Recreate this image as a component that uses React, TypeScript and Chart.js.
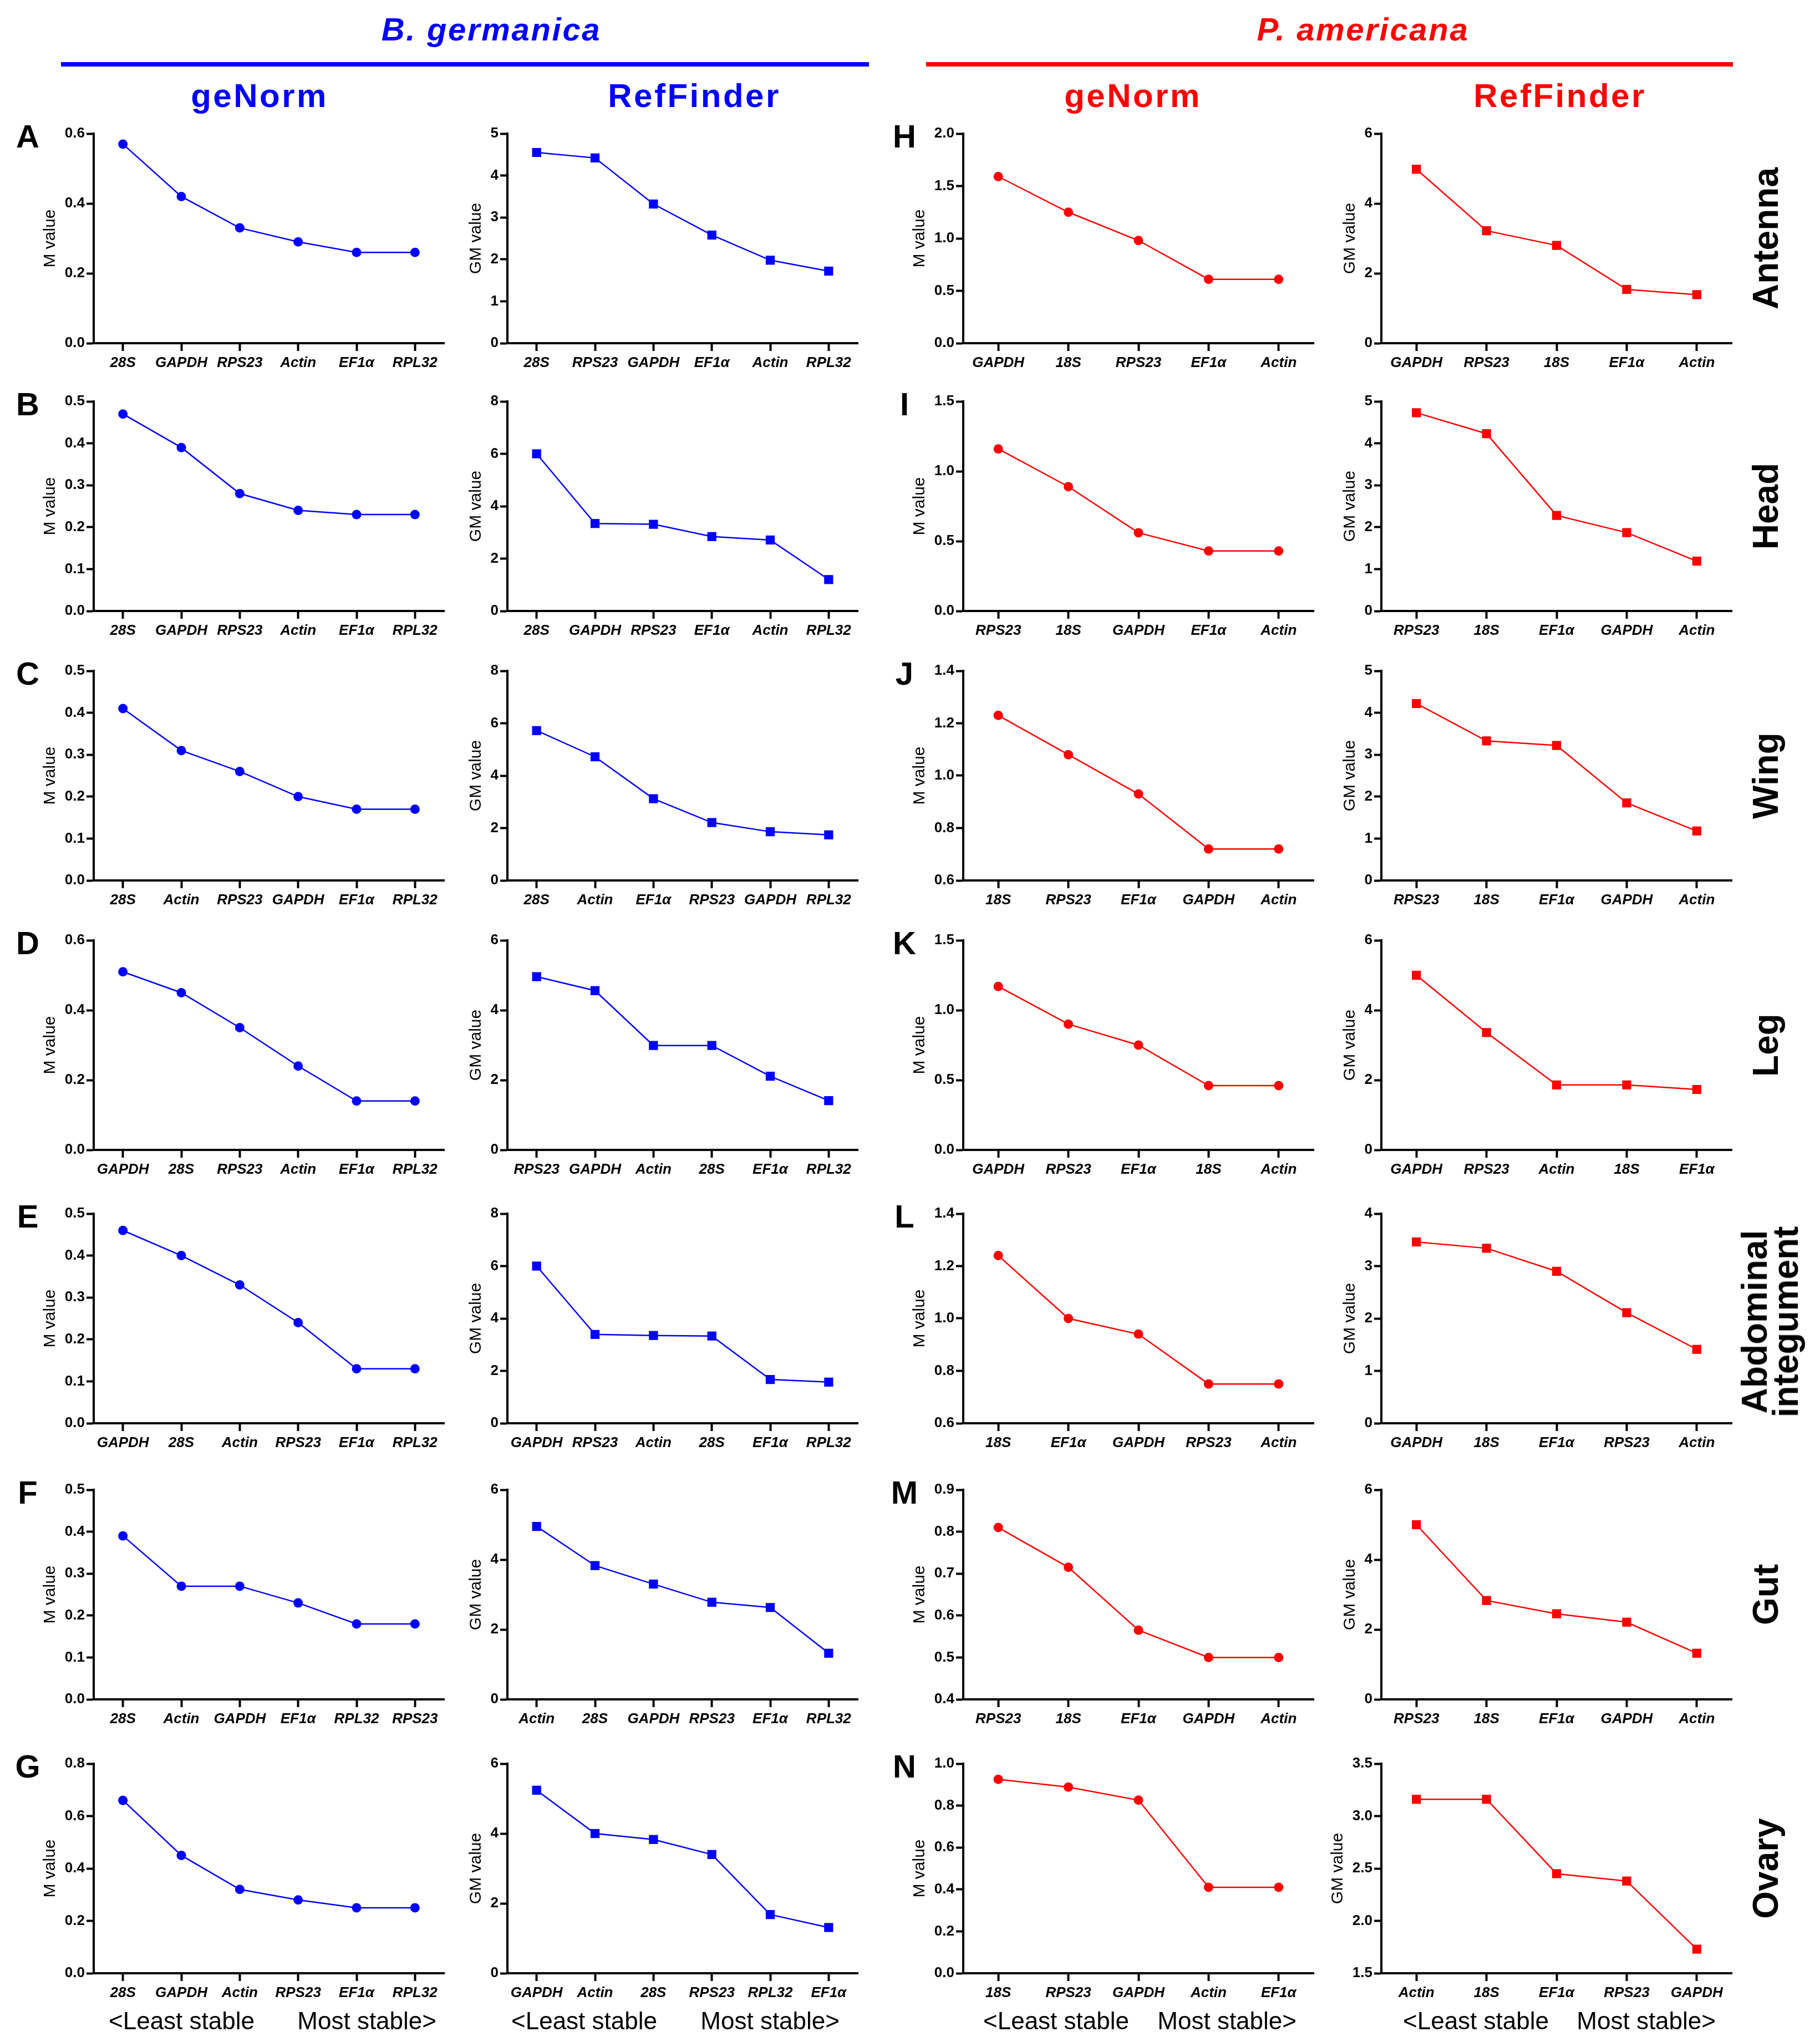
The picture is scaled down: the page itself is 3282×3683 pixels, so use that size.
import { useEffect, useRef } from 'react';
import { Chart, registerables } from 'chart.js';

Chart.register(...registerables);

const BLUE = '#0000ff';
const RED = '#ff0000';

// gene order (least -> most stable) and stability values, per tissue / species / method
// axis arrays are [min, max, step]
const antennaBgGenormGenes = ['28S', 'GAPDH', 'RPS23', 'Actin', 'EF1α', 'RPL32'];
const antennaBgGenormValues = [0.57, 0.42, 0.33, 0.29, 0.26, 0.26];
const antennaBgGenormAxis = [0, 0.6, 0.2];
const antennaBgRefGenes = ['28S', 'RPS23', 'GAPDH', 'EF1α', 'Actin', 'RPL32'];
const antennaBgRefValues = [4.55, 4.42, 3.32, 2.58, 1.98, 1.72];
const antennaBgRefAxis = [0, 5, 1];
const antennaPaGenormGenes = ['GAPDH', '18S', 'RPS23', 'EF1α', 'Actin'];
const antennaPaGenormValues = [1.59, 1.25, 0.98, 0.61, 0.61];
const antennaPaGenormAxis = [0, 2, 0.5];
const antennaPaRefGenes = ['GAPDH', 'RPS23', '18S', 'EF1α', 'Actin'];
const antennaPaRefValues = [4.98, 3.22, 2.8, 1.54, 1.39];
const antennaPaRefAxis = [0, 6, 2];

const headBgGenormGenes = ['28S', 'GAPDH', 'RPS23', 'Actin', 'EF1α', 'RPL32'];
const headBgGenormValues = [0.47, 0.39, 0.28, 0.24, 0.23, 0.23];
const headBgGenormAxis = [0, 0.5, 0.1];
const headBgRefGenes = ['28S', 'GAPDH', 'RPS23', 'EF1α', 'Actin', 'RPL32'];
const headBgRefValues = [6.0, 3.34, 3.31, 2.84, 2.71, 1.2];
const headBgRefAxis = [0, 8, 2];
const headPaGenormGenes = ['RPS23', '18S', 'GAPDH', 'EF1α', 'Actin'];
const headPaGenormValues = [1.16, 0.89, 0.56, 0.43, 0.43];
const headPaGenormAxis = [0, 1.5, 0.5];
const headPaRefGenes = ['RPS23', '18S', 'EF1α', 'GAPDH', 'Actin'];
const headPaRefValues = [4.73, 4.23, 2.28, 1.87, 1.19];
const headPaRefAxis = [0, 5, 1];

const wingBgGenormGenes = ['28S', 'Actin', 'RPS23', 'GAPDH', 'EF1α', 'RPL32'];
const wingBgGenormValues = [0.41, 0.31, 0.26, 0.2, 0.17, 0.17];
const wingBgGenormAxis = [0, 0.5, 0.1];
const wingBgRefGenes = ['28S', 'Actin', 'EF1α', 'RPS23', 'GAPDH', 'RPL32'];
const wingBgRefValues = [5.72, 4.72, 3.12, 2.21, 1.86, 1.74];
const wingBgRefAxis = [0, 8, 2];
const wingPaGenormGenes = ['18S', 'RPS23', 'EF1α', 'GAPDH', 'Actin'];
const wingPaGenormValues = [1.23, 1.08, 0.93, 0.72, 0.72];
const wingPaGenormAxis = [0.6, 1.4, 0.2];
const wingPaRefGenes = ['RPS23', '18S', 'EF1α', 'GAPDH', 'Actin'];
const wingPaRefValues = [4.22, 3.33, 3.22, 1.85, 1.18];
const wingPaRefAxis = [0, 5, 1];

const legBgGenormGenes = ['GAPDH', '28S', 'RPS23', 'Actin', 'EF1α', 'RPL32'];
const legBgGenormValues = [0.51, 0.45, 0.35, 0.24, 0.14, 0.14];
const legBgGenormAxis = [0, 0.6, 0.2];
const legBgRefGenes = ['RPS23', 'GAPDH', 'Actin', '28S', 'EF1α', 'RPL32'];
const legBgRefValues = [4.96, 4.56, 2.99, 2.99, 2.11, 1.41];
const legBgRefAxis = [0, 6, 2];
const legPaGenormGenes = ['GAPDH', 'RPS23', 'EF1α', '18S', 'Actin'];
const legPaGenormValues = [1.17, 0.9, 0.75, 0.46, 0.46];
const legPaGenormAxis = [0, 1.5, 0.5];
const legPaRefGenes = ['GAPDH', 'RPS23', 'Actin', '18S', 'EF1α'];
const legPaRefValues = [5.0, 3.36, 1.86, 1.86, 1.73];
const legPaRefAxis = [0, 6, 2];

const abdomenBgGenormGenes = ['GAPDH', '28S', 'Actin', 'RPS23', 'EF1α', 'RPL32'];
const abdomenBgGenormValues = [0.46, 0.4, 0.33, 0.24, 0.13, 0.13];
const abdomenBgGenormAxis = [0, 0.5, 0.1];
const abdomenBgRefGenes = ['GAPDH', 'RPS23', 'Actin', '28S', 'EF1α', 'RPL32'];
const abdomenBgRefValues = [6.0, 3.39, 3.35, 3.33, 1.67, 1.57];
const abdomenBgRefAxis = [0, 8, 2];
const abdomenPaGenormGenes = ['18S', 'EF1α', 'GAPDH', 'RPS23', 'Actin'];
const abdomenPaGenormValues = [1.24, 1.0, 0.94, 0.75, 0.75];
const abdomenPaGenormAxis = [0.6, 1.4, 0.2];
const abdomenPaRefGenes = ['GAPDH', '18S', 'EF1α', 'RPS23', 'Actin'];
const abdomenPaRefValues = [3.46, 3.34, 2.9, 2.11, 1.41];
const abdomenPaRefAxis = [0, 4, 1];

const gutBgGenormGenes = ['28S', 'Actin', 'GAPDH', 'EF1α', 'RPL32', 'RPS23'];
const gutBgGenormValues = [0.39, 0.27, 0.27, 0.23, 0.18, 0.18];
const gutBgGenormAxis = [0, 0.5, 0.1];
const gutBgRefGenes = ['Actin', '28S', 'GAPDH', 'RPS23', 'EF1α', 'RPL32'];
const gutBgRefValues = [4.95, 3.83, 3.3, 2.78, 2.63, 1.32];
const gutBgRefAxis = [0, 6, 2];
const gutPaGenormGenes = ['RPS23', '18S', 'EF1α', 'GAPDH', 'Actin'];
const gutPaGenormValues = [0.81, 0.715, 0.565, 0.5, 0.5];
const gutPaGenormAxis = [0.4, 0.9, 0.1];
const gutPaRefGenes = ['RPS23', '18S', 'EF1α', 'GAPDH', 'Actin'];
const gutPaRefValues = [5.0, 2.83, 2.45, 2.21, 1.32];
const gutPaRefAxis = [0, 6, 2];

const ovaryBgGenormGenes = ['28S', 'GAPDH', 'Actin', 'RPS23', 'EF1α', 'RPL32'];
const ovaryBgGenormValues = [0.66, 0.45, 0.32, 0.28, 0.25, 0.25];
const ovaryBgGenormAxis = [0, 0.8, 0.2];
const ovaryBgRefGenes = ['GAPDH', 'Actin', '28S', 'RPS23', 'RPL32', 'EF1α'];
const ovaryBgRefValues = [5.24, 4.0, 3.83, 3.4, 1.68, 1.31];
const ovaryBgRefAxis = [0, 6, 2];
const ovaryPaGenormGenes = ['18S', 'RPS23', 'GAPDH', 'Actin', 'EF1α'];
const ovaryPaGenormValues = [0.925, 0.888, 0.826, 0.41, 0.41];
const ovaryPaGenormAxis = [0, 1, 0.2];
const ovaryPaRefGenes = ['Actin', '18S', 'EF1α', 'RPS23', 'GAPDH'];
const ovaryPaRefValues = [3.16, 3.16, 2.45, 2.38, 1.73];
const ovaryPaRefAxis = [1.5, 3.5, 0.5];

const tissues = ['Antenna', 'Head', 'Wing', 'Leg', 'Abdominal\nintegument', 'Gut', 'Ovary'];
const leftLetters = ['A', 'B', 'C', 'D', 'E', 'F', 'G'];
const rightLetters = ['H', 'I', 'J', 'K', 'L', 'M', 'N'];

// layout (page pixels)
const ROW_TOPS = [241, 724, 1210, 1696, 2189, 2687, 3181];
const PLOT_H = 378;
const PLOT_W = 632;
const LEFT = 130;
const TOP_PAD = 24;
const RIGHT_PAD = 16;
const XAXIS_H = 70;

const COLS = [
  { x: 169, color: BLUE, marker: 'circle', title: 'M value', startX: 196, endX: 787 },
  { x: 915, color: BLUE, marker: 'rect', title: 'GM value', startX: 922, endX: 1514 },
  { x: 1737, color: RED, marker: 'circle', title: 'M value', startX: 1773, endX: 2338 },
  { x: 2491, color: RED, marker: 'rect', title: 'GM value', startX: 2530, endX: 3094 },
];

const rowsData = [
  [[antennaBgGenormGenes, antennaBgGenormValues, antennaBgGenormAxis], [antennaBgRefGenes, antennaBgRefValues, antennaBgRefAxis], [antennaPaGenormGenes, antennaPaGenormValues, antennaPaGenormAxis], [antennaPaRefGenes, antennaPaRefValues, antennaPaRefAxis]],
  [[headBgGenormGenes, headBgGenormValues, headBgGenormAxis], [headBgRefGenes, headBgRefValues, headBgRefAxis], [headPaGenormGenes, headPaGenormValues, headPaGenormAxis], [headPaRefGenes, headPaRefValues, headPaRefAxis]],
  [[wingBgGenormGenes, wingBgGenormValues, wingBgGenormAxis], [wingBgRefGenes, wingBgRefValues, wingBgRefAxis], [wingPaGenormGenes, wingPaGenormValues, wingPaGenormAxis], [wingPaRefGenes, wingPaRefValues, wingPaRefAxis]],
  [[legBgGenormGenes, legBgGenormValues, legBgGenormAxis], [legBgRefGenes, legBgRefValues, legBgRefAxis], [legPaGenormGenes, legPaGenormValues, legPaGenormAxis], [legPaRefGenes, legPaRefValues, legPaRefAxis]],
  [[abdomenBgGenormGenes, abdomenBgGenormValues, abdomenBgGenormAxis], [abdomenBgRefGenes, abdomenBgRefValues, abdomenBgRefAxis], [abdomenPaGenormGenes, abdomenPaGenormValues, abdomenPaGenormAxis], [abdomenPaRefGenes, abdomenPaRefValues, abdomenPaRefAxis]],
  [[gutBgGenormGenes, gutBgGenormValues, gutBgGenormAxis], [gutBgRefGenes, gutBgRefValues, gutBgRefAxis], [gutPaGenormGenes, gutPaGenormValues, gutPaGenormAxis], [gutPaRefGenes, gutPaRefValues, gutPaRefAxis]],
  [[ovaryBgGenormGenes, ovaryBgGenormValues, ovaryBgGenormAxis], [ovaryBgRefGenes, ovaryBgRefValues, ovaryBgRefAxis], [ovaryPaGenormGenes, ovaryPaGenormValues, ovaryPaGenormAxis], [ovaryPaRefGenes, ovaryPaRefValues, ovaryPaRefAxis]],
];

const SANS = '"Liberation Sans", Arial, sans-serif';
const NARROW = '"Liberation Sans Narrow", "Liberation Sans", Arial, sans-serif';
const TICK_FONT = { family: SANS, size: 26, weight: 'bold' as const };
const TITLE_SIZE = 30;

type PanelProps = {
  genes: string[];
  values: number[];
  axis: number[];
  col: (typeof COLS)[number];
  top: number;
};

function Panel({ genes, values, axis, col, top }: PanelProps) {
  const chartRef = useRef<HTMLCanvasElement>(null);
  const chartInstance = useRef<Chart | null>(null);

  useEffect(() => {
    if (!chartRef.current) return;
    const ctx = chartRef.current.getContext('2d');
    if (!ctx) return;
    if (chartInstance.current) chartInstance.current.destroy();

    const [min, max, step] = axis;
    const decimals = step < 1 || col.title === 'M value' ? 1 : 0;

    // place the y title the same distance from the tick labels in every panel
    const measure = document.createElement('canvas').getContext('2d');
    let labelW = 30;
    if (measure) {
      measure.font = `bold 26px ${SANS}`;
      labelW = Math.max(measure.measureText(min.toFixed(decimals)).width, measure.measureText(max.toFixed(decimals)).width);
    }
    const titleCenter = 13 + 3 + labelW + 26;
    const titlePad = LEFT - titleCenter - (TITLE_SIZE * 1.2) / 2;

    chartInstance.current = new Chart(ctx, {
      type: 'line',
      data: {
        labels: genes,
        datasets: [
          {
            data: values,
            borderColor: col.color,
            backgroundColor: col.color,
            borderWidth: 2.5,
            pointStyle: col.marker as any,
            pointRadius: col.marker === 'rect' ? 11.5 : 8.5,
            pointBackgroundColor: col.color,
            pointBorderWidth: 0,
            tension: 0,
            clip: false as any,
          },
        ],
      },
      options: {
        animation: false,
        responsive: true,
        maintainAspectRatio: false,
        layout: { padding: { top: TOP_PAD, right: RIGHT_PAD, left: 0, bottom: 0 } },
        plugins: { legend: { display: false }, tooltip: { enabled: false } },
        scales: {
          x: {
            offset: true,
            grid: { drawOnChartArea: false, drawTicks: true, tickLength: 14, tickWidth: 4, tickColor: '#000', offset: false },
            border: { display: true, color: '#000', width: 4 },
            ticks: {
              color: '#000',
              font: { ...TICK_FONT, style: 'italic' },
              padding: 6,
              autoSkip: false,
              maxRotation: 0,
              minRotation: 0,
            },
            afterFit: (scale) => {
              scale.height = XAXIS_H;
            },
          },
          y: {
            min,
            max,
            grid: { drawOnChartArea: false, drawTicks: true, tickLength: 13, tickWidth: 4, tickColor: '#000' },
            border: { display: true, color: '#000', width: 4 },
            ticks: {
              stepSize: step,
              color: '#000',
              font: TICK_FONT,
              padding: 3,
              callback: (v) => Number(v).toFixed(decimals),
            },
            title: {
              display: true,
              text: col.title,
              color: '#000',
              font: { family: NARROW, size: TITLE_SIZE, weight: 'normal' },
              padding: { top: titlePad, bottom: 0 },
            },
            afterFit: (scale) => {
              scale.width = LEFT;
            },
          },
        },
      },
    });

    return () => {
      if (chartInstance.current) {
        chartInstance.current.destroy();
        chartInstance.current = null;
      }
    };
  }, []);

  return (
    <div
      style={{
        position: 'absolute',
        left: col.x - LEFT,
        top: top - TOP_PAD,
        width: LEFT + PLOT_W + RIGHT_PAD,
        height: TOP_PAD + PLOT_H + XAXIS_H,
      }}
    >
      <canvas ref={chartRef}></canvas>
    </div>
  );
}

function Text({ x, y, children, style, rotate }: { x: number; y: number; children: any; style?: any; rotate?: boolean }) {
  return (
    <div
      style={{
        position: 'absolute',
        left: x,
        top: y,
        transform: `translate(-50%, -50%)${rotate ? ' rotate(-90deg)' : ''}`,
        whiteSpace: 'pre',
        lineHeight: 1,
        textAlign: 'center',
        fontFamily: SANS,
        ...style,
      }}
    >
      {children}
    </div>
  );
}

export default function App() {
  const speciesStyle = { fontSize: 58, fontWeight: 'bold', fontStyle: 'italic', letterSpacing: 2.7 };
  const methodStyle = { fontSize: 60, fontWeight: 'bold', letterSpacing: 3.5 };
  const letterStyle = { fontSize: 58, fontWeight: 'bold', color: '#000' };
  const tissueStyle = { fontSize: 64, fontWeight: 'bold', color: '#000' };
  const bottomY = 3645;

  return (
    <div style={{ position: 'absolute', left: 0, top: 0, width: 3282, height: 3683, background: '#fff', overflow: 'hidden' }}>
      <Text x={886} y={53} style={{ ...speciesStyle, color: BLUE }}>B. germanica</Text>
      <Text x={2458} y={53} style={{ ...speciesStyle, color: RED }}>P. americana</Text>
      <div style={{ position: 'absolute', left: 110, top: 112, width: 1457, height: 8, background: BLUE }} />
      <div style={{ position: 'absolute', left: 1670, top: 112, width: 1455, height: 8, background: RED }} />
      <Text x={468} y={173} style={{ ...methodStyle, color: BLUE }}>geNorm</Text>
      <Text x={1252} y={173} style={{ ...methodStyle, color: BLUE }}>RefFinder</Text>
      <Text x={2043} y={173} style={{ ...methodStyle, color: RED }}>geNorm</Text>
      <Text x={2813} y={173} style={{ ...methodStyle, color: RED }}>RefFinder</Text>

      {rowsData.map((row, r) =>
        row.map(([genes, values, axis], c) => (
          <Panel
            key={`${r}-${c}`}
            genes={genes as string[]}
            values={values as number[]}
            axis={axis as number[]}
            col={COLS[c]}
            top={ROW_TOPS[r]}
          />
        ))
      )}

      {ROW_TOPS.map((t, r) => (
        <Text key={`la${r}`} x={50} y={t + 5} style={letterStyle}>{leftLetters[r]}</Text>
      ))}
      {ROW_TOPS.map((t, r) => (
        <Text key={`lb${r}`} x={1631} y={t + 5} style={letterStyle}>{rightLetters[r]}</Text>
      ))}
      {ROW_TOPS.map((t, r) => (
        <Text
          key={`ts${r}`}
          x={tissues[r].includes('\n') ? 3192 : 3184}
          y={t + PLOT_H / 2 + (tissues[r].includes('\n') ? 6 : 0)}
          rotate
          style={{ ...tissueStyle, lineHeight: tissues[r].includes('\n') ? '56px' : 1 }}
        >
          {tissues[r]}
        </Text>
      ))}

      {COLS.map((col, c) => (
        <div key={`bl${c}`}>
          <div style={{ position: 'absolute', left: col.startX, top: bottomY, transform: 'translateY(-50%)', fontFamily: SANS, fontSize: 44, lineHeight: 1, whiteSpace: 'pre' }}>
            {'<Least stable'}
          </div>
          <div style={{ position: 'absolute', right: 3282 - col.endX, top: bottomY, transform: 'translateY(-50%)', fontFamily: SANS, fontSize: 44, lineHeight: 1, whiteSpace: 'pre' }}>
            {'Most stable>'}
          </div>
        </div>
      ))}
    </div>
  );
}
